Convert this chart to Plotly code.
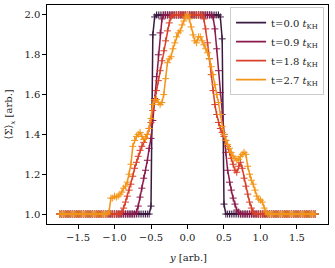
import numpy as np
import plotly.graph_objects as go

# grid of y positions (uniform sampling from -1.75 to 1.75)
x_vals = np.round(np.arange(-1.75, 1.75 + 1e-9, 0.025), 4).tolist()

labels = ["t=0.0 <i>t</i><sub>KH</sub>", "t=0.9 <i>t</i><sub>KH</sub>",
          "t=1.8 <i>t</i><sub>KH</sub>", "t=2.7 <i>t</i><sub>KH</sub>"]
colors = ["#3b1a40", "#8a1a4b", "#d9402a", "#f39518"]

y_t00 = [1.0, 1.0, 1.0, 1.0, 1.0, 1.0, 1.0, 1.0, 1.0, 1.0,
         1.0, 1.0, 1.0, 1.0, 1.0, 1.0, 1.0, 1.0, 1.0, 1.0,
         1.0, 1.0, 1.0, 1.0, 1.0, 1.0, 1.0, 1.0, 1.0, 1.0,
         1.0, 1.0, 1.0, 1.0, 1.0, 1.0, 1.0, 1.0, 1.0, 1.0,
         1.0, 1.0, 1.0, 1.0, 1.0, 1.0, 1.0, 1.0, 1.0, 1.0,
         1.04, 1.90, 1.99,
         2.0, 2.0, 2.0, 2.0, 2.0, 2.0, 2.0, 2.0, 2.0, 2.0,
         2.0, 2.0, 2.0, 2.0, 2.0, 2.0, 2.0, 2.0, 2.0, 2.0,
         2.0, 2.0, 2.0, 2.0, 2.0, 2.0, 2.0, 2.0, 2.0, 2.0,
         2.0, 2.0, 2.0, 2.0, 2.0,
         1.99, 1.88, 1.05,
         1.0, 1.0, 1.0, 1.0, 1.0, 1.0, 1.0, 1.0, 1.0, 1.0,
         1.0, 1.0, 1.0, 1.0, 1.0, 1.0, 1.0, 1.0, 1.0, 1.0,
         1.0, 1.0, 1.0, 1.0, 1.0, 1.0, 1.0, 1.0, 1.0, 1.0,
         1.0, 1.0, 1.0, 1.0, 1.0, 1.0, 1.0, 1.0, 1.0, 1.0,
         1.0, 1.0, 1.0, 1.0, 1.0, 1.0, 1.0, 1.0, 1.0, 1.0]

y_t09 = [1.0, 1.0, 1.0, 1.0, 1.0, 1.0, 1.0, 1.0, 1.0, 1.0,
         1.0, 1.0, 1.0, 1.0, 1.0, 1.0, 1.0, 1.0, 1.0, 1.0,
         1.0, 1.0, 1.0, 1.0, 1.0, 1.0, 1.0, 1.0, 1.0, 1.0,
         1.0, 1.0, 1.0, 1.0, 1.0, 1.0, 1.0, 1.0, 1.0, 1.0,
         1.0, 1.0,
         1.01, 1.04, 1.085, 1.13, 1.18, 1.22, 1.27, 1.33, 1.38, 1.47,
         1.58, 1.69, 1.80, 1.91, 1.98,
         2.0, 2.0, 2.0, 2.0, 2.0, 2.0, 2.0, 2.0, 2.0, 2.0,
         2.0, 2.0, 2.0, 2.0, 2.0, 2.0, 2.0, 2.0, 2.0, 2.0,
         2.0, 2.0, 2.0, 2.0, 2.0, 2.0, 2.0,
         1.99, 1.93, 1.83, 1.72, 1.61, 1.50, 1.40, 1.31, 1.22, 1.16,
         1.12, 1.08, 1.05, 1.02, 1.01,
         1.0, 1.0, 1.0, 1.0, 1.0, 1.0, 1.0, 1.0, 1.0, 1.0,
         1.0, 1.0, 1.0, 1.0, 1.0, 1.0, 1.0, 1.0, 1.0, 1.0,
         1.0, 1.0, 1.0, 1.0, 1.0, 1.0, 1.0, 1.0, 1.0, 1.0,
         1.0, 1.0, 1.0, 1.0, 1.0, 1.0, 1.0, 1.0, 1.0, 1.0,
         1.0, 1.0]

y_t18 = [1.0, 1.0, 1.0, 1.0, 1.0, 1.0, 1.0, 1.0, 1.0, 1.0,
         1.0, 1.0, 1.0, 1.0, 1.0, 1.0, 1.0, 1.0, 1.0, 1.0,
         1.0, 1.0, 1.0, 1.0, 1.0, 1.0, 1.0, 1.0, 1.0, 1.0,
         1.0, 1.0, 1.0, 1.0,
         1.01, 1.03, 1.06, 1.09, 1.12, 1.15, 1.19, 1.23, 1.26, 1.29,
         1.32, 1.34, 1.36, 1.38, 1.40, 1.43, 1.46, 1.52, 1.57, 1.62,
         1.67, 1.72, 1.77, 1.82, 1.87, 1.92, 1.96, 1.99,
         2.0, 2.0, 2.0, 2.0, 2.0, 2.0, 2.0, 2.0, 2.0, 2.0,
         2.0, 2.0, 2.0, 2.0, 2.0, 2.0, 2.0,
         1.98, 1.93, 1.86, 1.78, 1.70, 1.62, 1.55, 1.50, 1.46, 1.43,
         1.41, 1.39, 1.37, 1.34, 1.31, 1.28, 1.25, 1.22, 1.21, 1.24,
         1.26, 1.23, 1.18, 1.14, 1.10, 1.06, 1.03, 1.01,
         1.0, 1.0, 1.0, 1.0, 1.0, 1.0, 1.0, 1.0, 1.0, 1.0,
         1.0, 1.0, 1.0, 1.0, 1.0, 1.0, 1.0, 1.0, 1.0, 1.0,
         1.0, 1.0, 1.0, 1.0, 1.0, 1.0, 1.0, 1.0, 1.0, 1.0,
         1.0, 1.0, 1.0, 1.0]

y_t27 = [1.0, 1.0, 1.0, 1.0, 1.0, 1.0, 1.0, 1.0, 1.0, 1.0,
         1.0, 1.0, 1.0, 1.0, 1.0, 1.0, 1.0, 1.0, 1.0, 1.0,
         1.0, 1.0, 1.0, 1.0, 1.0, 1.0, 1.0,
         1.01, 1.08, 1.08, 1.09, 1.085, 1.09, 1.10, 1.11, 1.13, 1.14,
         1.16, 1.20, 1.25, 1.34, 1.37, 1.39, 1.40, 1.41, 1.39, 1.375,
         1.38, 1.40, 1.43, 1.48, 1.55, 1.575, 1.575, 1.56, 1.55, 1.56,
         1.60, 1.68, 1.76, 1.78, 1.79, 1.83, 1.86, 1.89, 1.91, 1.92,
         1.95, 1.97, 1.99, 2.0, 1.98, 1.94, 1.90, 1.87, 1.86, 1.89,
         1.89, 1.87, 1.85, 1.83, 1.81, 1.78, 1.74, 1.70, 1.65, 1.60,
         1.56, 1.50, 1.44, 1.40, 1.37, 1.35, 1.33, 1.31, 1.29, 1.28,
         1.27, 1.275, 1.29, 1.30, 1.31, 1.30, 1.24, 1.20, 1.17, 1.15,
         1.12, 1.09, 1.075, 1.07, 1.06, 1.03, 1.01,
         1.0, 1.0, 1.0, 1.0, 1.0, 1.0, 1.0, 1.0, 1.0, 1.0,
         1.0, 1.0, 1.0, 1.0, 1.0, 1.0, 1.0, 1.0, 1.0, 1.0,
         1.0, 1.0, 1.0, 1.0, 1.0, 1.0, 1.0]

series = [y_t00, y_t09, y_t18, y_t27]

x_ticks = [-1.5, -1.0, -0.5, 0.0, 0.5, 1.0, 1.5]
y_ticks = [1.0, 1.2, 1.4, 1.6, 1.8, 2.0]

FONT = "DejaVu Serif"

fig = go.Figure()
for ys, lab, col in zip(series, labels, colors):
    fig.add_trace(go.Scatter(
        x=x_vals, y=ys, mode="lines+markers", showlegend=False,
        line=dict(color=col, width=1.5),
        marker=dict(symbol="cross-thin", size=5, line=dict(color=col, width=1)),
    ))
for lab, col in zip(labels, colors):
    fig.add_trace(go.Scatter(
        x=[None], y=[None], mode="lines", name=lab,
        line=dict(color=col, width=1.8),
    ))

axis_common = dict(
    showline=True, linecolor="black", linewidth=1.2, mirror=True,
    ticks="outside", ticklen=3.5, tickwidth=1, tickcolor="black",
    showgrid=False, zeroline=False, tickformat=".1f", automargin=False,
    tickfont=dict(family=FONT, size=10, color="#222"),
)

fig.update_layout(
    width=335, height=268,
    margin=dict(l=47, r=7, t=5, b=44),
    paper_bgcolor="white", plot_bgcolor="white",
    font=dict(family=FONT, size=10, color="#222"),
    xaxis=dict(range=[-1.925, 1.925], tickvals=x_ticks, **axis_common),
    yaxis=dict(range=[0.95, 2.05], tickvals=y_ticks, **axis_common),
    legend=dict(x=0.986, y=0.99, xanchor="right", yanchor="top",
                bgcolor="rgba(255,255,255,0.85)", bordercolor="#cccccc", borderwidth=1,
                font=dict(family=FONT, size=10, color="#222"),
                tracegroupgap=0, itemwidth=30),
    annotations=[
        dict(text="<i>y</i> [arb.]", xref="paper", yref="paper", x=0.5, y=-0.151,
             xanchor="center", yanchor="middle", showarrow=False,
             font=dict(family=FONT, size=10, color="#222")),
        dict(text="⟨Σ⟩<sub><i>x</i></sub> [arb.]", xref="paper", yref="paper",
             x=-0.132, y=0.5, xanchor="center", yanchor="middle", textangle=-90,
             showarrow=False, font=dict(family=FONT, size=10, color="#222")),
    ],
)

fig.write_html("out.html", config={"displayModeBar": False},
               post_script="document.body.style.margin='0';document.body.style.padding='0';")
